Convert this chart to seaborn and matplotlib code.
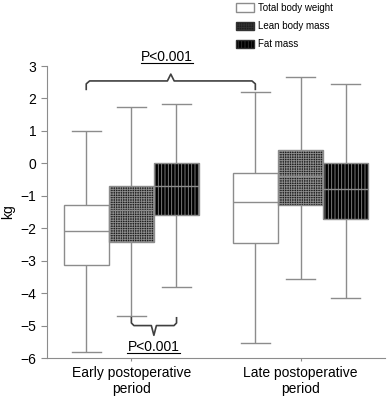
import numpy as np
import pandas as pd
import matplotlib
matplotlib.use("Agg")
import matplotlib.pyplot as plt
from matplotlib.patches import Patch
import seaborn as sns

plt.rcParams['font.family'] = ['Liberation Sans', 'DejaVu Sans']
plt.rcParams['hatch.linewidth'] = 0.6

periods = ["Early postoperative\nperiod", "Late postoperative\nperiod"]
measures = ["Total body weight", "Lean body mass", "Fat mass"]

# five-number summaries: low whisker, Q1, median, Q3, high whisker
early_tbw = [-5.8, -3.13, -2.1, -1.28, 1.0]
early_lbm = [-4.69, -2.41, -1.45, -0.70, 1.74]
early_fm = [-3.82, -1.59, -0.70, 0.0, 1.82]
late_tbw = [-5.55, -2.44, -1.2, -0.31, 2.2]
late_lbm = [-3.55, -1.28, -0.40, 0.40, 2.65]
late_fm = [-4.15, -1.72, -0.80, 0.0, 2.45]

summaries = {
    (periods[0], measures[0]): early_tbw,
    (periods[0], measures[1]): early_lbm,
    (periods[0], measures[2]): early_fm,
    (periods[1], measures[0]): late_tbw,
    (periods[1], measures[1]): late_lbm,
    (periods[1], measures[2]): late_fm,
}

rows = []
for (period, measure), vals in summaries.items():
    for v in vals:
        rows.append({"period": period, "measure": measure, "kg": v})
df = pd.DataFrame(rows)

line_col = '#8c8c8c'
fills = {measures[0]: 'white', measures[1]: '#1e1e1e', measures[2]: 'black'}
hatches = {measures[0]: '', measures[1]: '+++++++', measures[2]: '|||||'}
hatch_cols = {measures[0]: line_col, measures[1]: '#7a7a7a', measures[2]: '#9a9a9a'}

fig = plt.figure(figsize=(3.87, 4.05), dpi=100)
ax = fig.add_axes([0.121, 0.116, 0.874, 0.721])

sns.boxplot(data=df, x="period", y="kg", hue="measure", order=periods,
            hue_order=measures, palette=fills, saturation=1, whis=(0, 100),
            width=0.8, gap=0, linecolor=line_col, linewidth=1, fliersize=0,
            legend=False, ax=ax)

# hatch the boxes by their fill colour
for p in ax.patches:
    fc = tuple(np.round(p.get_facecolor()[:3], 3))
    for m in measures:
        if fc == tuple(np.round(matplotlib.colors.to_rgb(fills[m]), 3)):
            p.set_hatch(hatches[m])
            if hasattr(p, 'set_hatchcolor'):
                p.set_hatchcolor(hatch_cols[m])

# widen the whisker caps a little (they are ~65% of the box width)
for ln in ax.lines:
    xd, yd = np.asarray(ln.get_xdata(), float), np.asarray(ln.get_ydata(), float)
    if len(xd) == 2 and yd[0] == yd[1] and 0 < xd[1] - xd[0] < 0.2:
        c = xd.mean()
        half = (xd[1] - xd[0]) / 2 * 1.3
        ln.set_xdata([c - half, c + half])

ax.set_ylim(-6, 3)
ax.set_xlim(-0.5, 1.5)
ax.set_yticks(range(-6, 4))
ax.set_xlabel("")
ax.set_ylabel("kg", fontsize=10)
ax.yaxis.set_label_coords(-0.095, 0.5)
ax.tick_params(axis='both', labelsize=10, colors=line_col, labelcolor='black')
ax.tick_params(axis='y', length=4)
ax.tick_params(axis='x', length=2)
for s in ['top', 'right']:
    ax.spines[s].set_visible(False)
for s in ['left', 'bottom']:
    ax.spines[s].set_color(line_col)

# significance braces
br = '#404040'
x0, x1, xm = -0.267, 0.733, 0.233
ax.plot([x0, x0, x0 + 0.02, xm - 0.02, xm, xm + 0.02, x1 - 0.02, x1, x1],
        [2.28, 2.45, 2.54, 2.54, 2.75, 2.54, 2.54, 2.45, 2.28],
        color=br, lw=1.2, clip_on=False)
ax.text(0.21, 3.14, "P<0.001", ha='center', va='baseline', fontsize=10, clip_on=False)
ax.plot([0.055, 0.365], [3.08, 3.08], color='black', lw=0.8, clip_on=False)

b0, b1, bm = 0.0, 0.267, 0.133
ax.plot([b0, b0, b0 + 0.015, bm - 0.015, bm, bm + 0.015, b1 - 0.015, b1, b1],
        [-4.76, -4.92, -5.0, -5.0, -5.3, -5.0, -5.0, -4.92, -4.76],
        color=br, lw=1.2, clip_on=False)
ax.text(0.13, -5.77, "P<0.001", ha='center', va='baseline', fontsize=10, clip_on=False)
ax.plot([-0.025, 0.285], [-5.83, -5.83], color='black', lw=0.8, clip_on=False)

handles = [Patch(facecolor=fills[m], edgecolor=hatch_cols[m] if m == measures[0] else '#333333',
                 hatch=hatches[m], label=m) for m in measures]
for h, m in zip(handles, measures):
    if hasattr(h, 'set_hatchcolor'):
        h.set_hatchcolor(hatch_cols[m])
fig.legend(handles=handles, loc='upper left', bbox_to_anchor=(0.598, 1.005),
           frameon=False, fontsize=7, handlelength=1.85, handleheight=0.95,
           handletextpad=0.35, labelspacing=0.85, borderpad=0.0)

fig.savefig("out.png", dpi=100)
